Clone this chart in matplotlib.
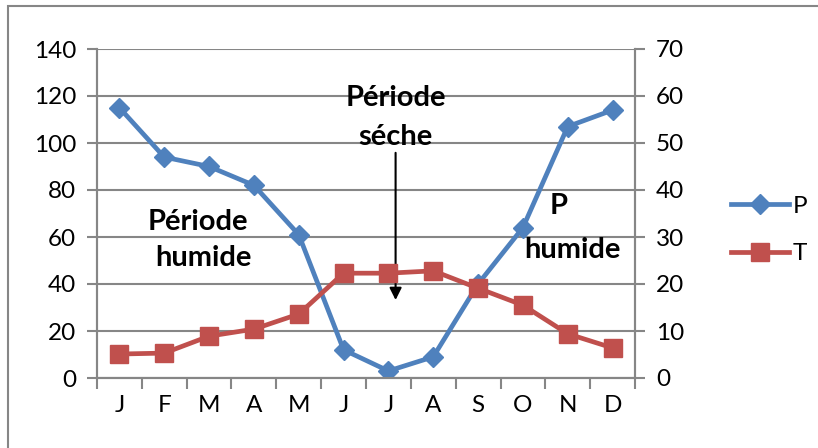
import matplotlib
matplotlib.use('Agg')
from matplotlib import pyplot as plt, rcParams
from matplotlib.patches import Rectangle
import numpy as np

# Données climatiques (P en mm, T en °C)
mois = ['J', 'F', 'M', 'A', 'M', 'J', 'J', 'A', 'S', 'O', 'N', 'D']
precip = [115, 94, 90, 82, 61, 12, 3, 9, 40, 64, 107, 114]
temp = [5.1, 5.3, 8.9, 10.4, 13.6, 22.3, 22.3, 22.8, 19.1, 15.5, 9.4, 6.4]

bleu = '#4F81BD'
rouge = '#C0504D'
gris = '#868686'

rcParams['font.family'] = ['Lato', 'DejaVu Sans']
rcParams['font.size'] = 17.5

fig = plt.figure(figsize=(8.18, 4.48), dpi=100)
fig.patches.append(Rectangle((8/818, 0.0 - 0.05), 1.2, 1 - 6/448 + 0.05,
                             transform=fig.transFigure, fill=False,
                             edgecolor=gris, linewidth=1.5))

ax = fig.add_axes([97/818, 1-378/448, (635-97)/818, (378-49)/448])
ax2 = ax.twinx()

x = np.arange(len(mois))
lp, = ax.plot(x, precip, color=bleu, linewidth=3.4, marker='D', markersize=10.5, label='P', zorder=3)
lt, = ax2.plot(x, temp, color=rouge, linewidth=3.4, marker='s', markersize=12.5, label='T', zorder=3)

ax.set_xlim(-0.5, 11.5)
ax.set_ylim(0, 140)
ax.set_yticks(range(0, 141, 20))
ax2.set_ylim(0, 70)
ax2.set_yticks(range(0, 71, 10))

ax.set_xticks(x)
ax.set_xticklabels(mois)
ax.set_xticks(np.arange(-0.5, 12, 1), minor=True)
ax.tick_params(axis='x', which='major', length=0, pad=12)
ax.tick_params(axis='x', which='minor', length=8, width=1.5, color=gris, direction='out')
ax.tick_params(axis='y', length=7, width=1.5, color=gris, direction='out', pad=8)
ax2.tick_params(axis='y', length=7, width=1.5, color=gris, direction='out', pad=8)

ax.grid(axis='y', color=gris, linewidth=1.5)
ax.set_axisbelow(True)
for a in (ax, ax2):
    a.spines['top'].set_visible(False)
    for s in ('left', 'right', 'bottom'):
        a.spines[s].set_color(gris)
        a.spines[s].set_linewidth(1.5)

# Annotations
fs = 21
ax.text(1.75, 66.5, 'Période', ha='center', va='center', fontweight='bold', fontsize=fs)
ax.text(1.88, 51, 'humide', ha='center', va='center', fontweight='bold', fontsize=fs)
ax.text(6.16, 119, 'Période', ha='center', va='center', fontweight='bold', fontsize=fs)
ax.text(6.16, 102.5, 'séche', ha='center', va='center', fontweight='bold', fontsize=fs)
ax.text(9.8, 73, 'P', ha='center', va='center', fontweight='bold', fontsize=fs)
ax.text(10.1, 54.5, 'humide', ha='center', va='center', fontweight='bold', fontsize=fs)
ax.annotate('', xy=(6.16, 32), xytext=(6.16, 97),
            arrowprops=dict(arrowstyle='-|>', color='black', lw=1.5, mutation_scale=18))

fig.legend(handles=[lp, lt], loc='center left', bbox_to_anchor=(731/818, 1-230/448),
           frameon=False, handlelength=2.4, labelspacing=1.1, handletextpad=0.15,
           borderpad=0, borderaxespad=0, fontsize=17.5)

fig.savefig('out.png', dpi=100)
